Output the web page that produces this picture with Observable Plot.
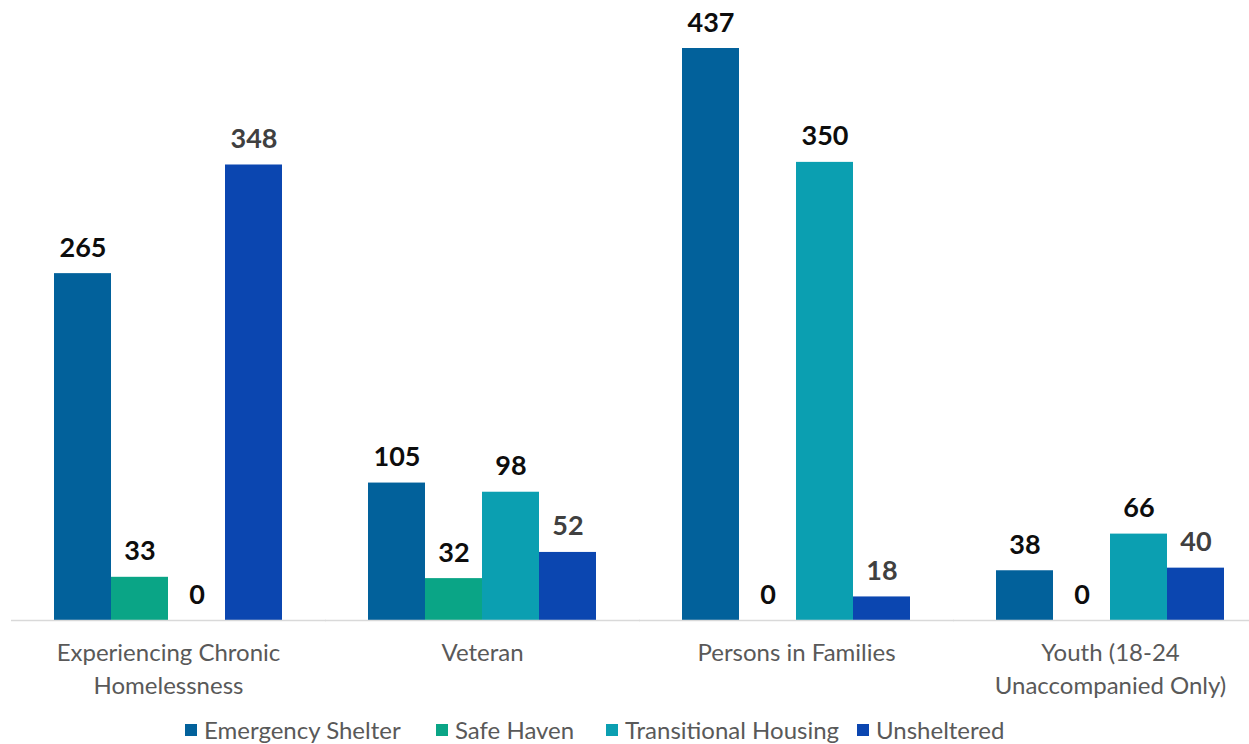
<!DOCTYPE html>
<html>
<head>
<meta charset="utf-8">
<script src="https://cdn.jsdelivr.net/npm/d3@7"></script>
<script src="https://cdn.jsdelivr.net/npm/@observablehq/plot@0.6"></script>
<style>
  html, body { margin: 0; padding: 0; background: #fff; }
  body { width: 1249px; height: 744px; position: relative; overflow: hidden; font-family: Lato, "Open Sans", sans-serif; }
  #chart { position: absolute; left: 0; top: 0; }
  #legend { position: absolute; left: 0; top: 715px; width: 1249px; height: 30px; font-size: 24px; color: #595959; white-space: nowrap; }
  .item { position: absolute; top: 0; display: flex; align-items: center; }
  .sw { width: 12px; height: 12px; margin-right: 7px; }
</style>
</head>
<body>
<div id="chart"></div>
<div id="legend"></div>
<script>
const categories = ["Experiencing Chronic Homelessness", "Veteran", "Persons in Families", "Youth (18-24 Unaccompanied Only)"];
const tickLabels = ["Experiencing Chronic\nHomelessness", "Veteran", "Persons in Families", "Youth (18-24\nUnaccompanied Only)"];
const series = ["Emergency Shelter", "Safe Haven", "Transitional Housing", "Unsheltered"];
const colors = ["#02619b", "#0aa586", "#0b9fb1", "#0b46b0"];
const emergencyShelter = [265, 105, 437, 38];
const safeHaven = [33, 32, 0, 0];
const transitionalHousing = [0, 98, 350, 66];
const unsheltered = [348, 52, 18, 40];
const legendX = [185, 436, 606, 857];

const values = [emergencyShelter, safeHaven, transitionalHousing, unsheltered];
const data = categories.flatMap((c, i) => series.map((s, j) => ({category: c, series: s, value: values[j][i]})));

const labelOpts = {fx: "category", x: "series", y: "value", text: d => String(d.value), lineAnchor: "bottom", dy: -17, fontWeight: "bold", fontSize: 27, fontFamily: "Lato, sans-serif"};

const chart = Plot.plot({
  width: 1249,
  height: 705,
  marginLeft: 54,
  marginRight: 25,
  marginTop: 48,
  marginBottom: 85,
  style: {fontFamily: "Lato, sans-serif", background: "#fff", overflow: "visible"},
  fx: {domain: categories, paddingInner: 0.274, paddingOuter: 0, label: null},
  x: {domain: series, padding: 0, axis: null},
  y: {domain: [0, 437], axis: null},
  color: {domain: series, range: colors},
  marks: [
    Plot.barY(data, {fx: "category", x: "series", y: "value", fill: "series"}),
    Plot.ruleY([0], {stroke: "#d9d9d9", strokeWidth: 1.5, insetLeft: -43, insetRight: -44}),
    Plot.text(data.filter(d => d.series !== "Unsheltered"), {...labelOpts, fill: "#0d0d0d"}),
    Plot.text(data.filter(d => d.series === "Unsheltered"), {...labelOpts, fill: "#404040"}),
    Plot.axisFx({anchor: "bottom", tickSize: 0, tickPadding: 17, tickFormat: c => tickLabels[categories.indexOf(c)], fontSize: 24, lineHeight: 1.375, fill: "#595959", label: null})
  ]
});
document.getElementById("chart").append(chart);

const legend = document.getElementById("legend");
series.forEach((s, i) => {
  const item = document.createElement("div");
  item.className = "item";
  item.style.left = legendX[i] + "px";
  const sw = document.createElement("span");
  sw.className = "sw";
  sw.style.background = colors[i];
  const t = document.createElement("span");
  t.textContent = s;
  item.append(sw, t);
  legend.append(item);
});
</script>
</body>
</html>
